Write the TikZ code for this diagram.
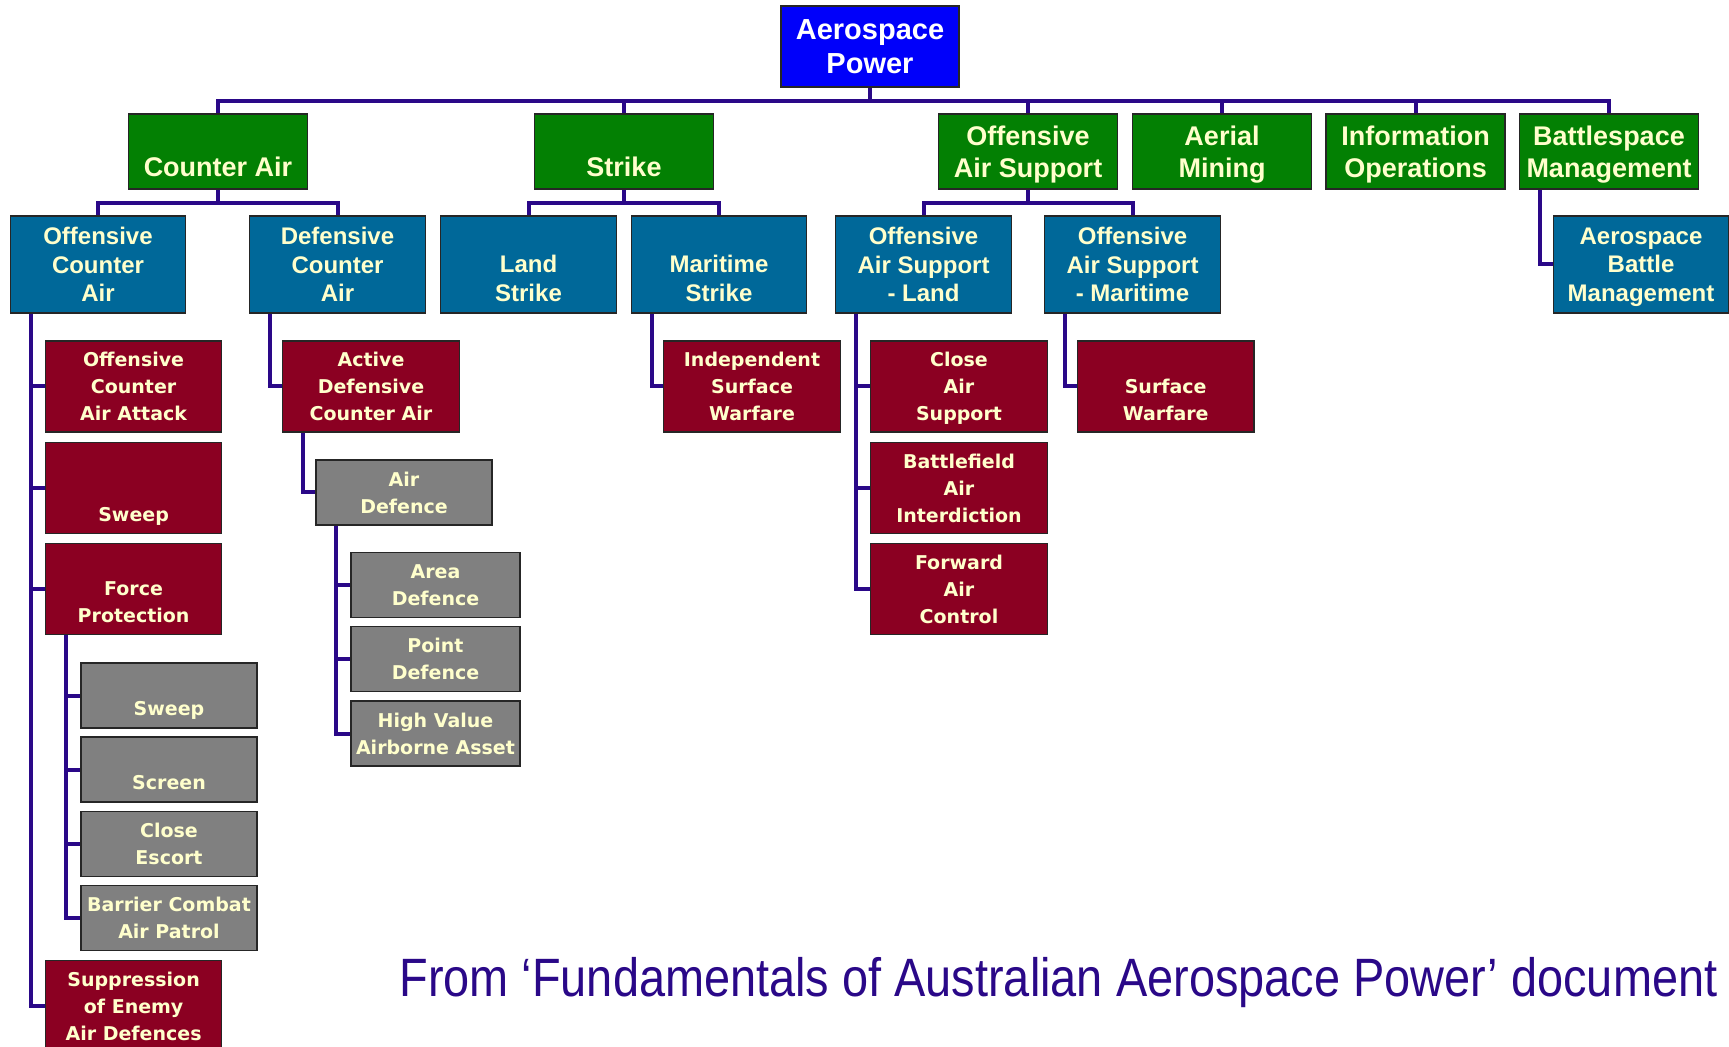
\documentclass[tikz,border=0pt]{standalone}
\usepackage{fontspec}
\usepackage{graphicx}
\setmainfont{Liberation Sans}
\newfontfamily\taskfont{DejaVu Sans}
\usepackage{tikz}

\definecolor{powerblue}{RGB}{0,0,250}
\definecolor{areagreen}{RGB}{3,128,3}
\definecolor{roleblue}{RGB}{0,104,153}
\definecolor{taskred}{RGB}{139,0,34}
\definecolor{missiongray}{RGB}{128,128,128}
\definecolor{cream}{RGB}{255,255,204}
\definecolor{linkindigo}{RGB}{42,8,136}

\begin{document}
\begin{tikzpicture}[x = 0.5pt, y = -0.5pt,
                        box/.style = {draw = black!85, line width = 0.6pt, inner sep = 0pt, align = center, text depth = 0pt},
                        powerbox/.style = {box, fill = powerblue, text = white, minimum width = 89pt, minimum height = 40.5pt,
                                           font = \bfseries\fontsize{14.5}{17}\selectfont},
                        areabox/.style = {box, fill = areagreen, text = cream, minimum width = 89.5pt, minimum height = 37.5pt,
                                          font = \bfseries\fontsize{13.5}{16}\selectfont},
                        rolebox/.style = {box, fill = roleblue, text = cream, minimum width = 87.75pt, minimum height = 48.5pt,
                                          font = \bfseries\fontsize{12}{14.3}\selectfont},
                        taskbox/.style = {box, fill = taskred, text = cream, minimum width = 88.25pt, minimum height = 45.5pt,
                                          font = \taskfont\bfseries\fontsize{9.5}{13.5}\selectfont},
                        missionbox/.style = {box, fill = missiongray, text = cream, minimum width = 88pt, minimum height = 32.5pt,
                                             font = \taskfont\bfseries\fontsize{9.5}{13.5}\selectfont},
                        link/.style = {draw = linkindigo, line width = 2pt}]
      \clip (0, 0) rectangle (1729, 1047);
      % top
      \node [powerbox] (power) at (870, 46.5) {Aerospace\\Power};
      % areas
      \node [areabox] (ca) at (218, 151.5) {\vphantom{A}\\Counter Air};
      \node [areabox] (strike) at (624, 151.5) {\vphantom{A}\\Strike};
      \node [areabox] (oas) at (1028, 151.5) {Offensive\\Air Support};
      \node [areabox] (mining) at (1222, 151.5) {Aerial\\Mining};
      \node [areabox] (infoops) at (1415.5, 151.5) {Information\\Operations};
      \node [areabox] (bsm) at (1609, 151.5) {Battlespace\\Management};
      % roles
      \node [rolebox] (oca) at (98, 264.5) {Offensive\\Counter\\Air};
      \node [rolebox] (dca) at (337.5, 264.5) {Defensive\\Counter\\Air};
      \node [rolebox] (land) at (528.5, 264.5) {\vphantom{A}\\Land\\Strike};
      \node [rolebox] (mstrike) at (719, 264.5) {\vphantom{A}\\Maritime\\Strike};
      \node [rolebox] (oasl) at (923.5, 264.5) {Offensive\\Air Support\\- Land};
      \node [rolebox] (oasm) at (1132.5, 264.5) {Offensive\\Air Support\\- Maritime};
      \node [rolebox] (absm) at (1641, 264.5) {Aerospace\\Battle\\Management};
      % tasks
      \node [taskbox] (ocaa) at (133.6, 386.5) {Offensive\\Counter\\Air Attack};
      \node [taskbox] (sweep) at (133.6, 488) {\vphantom{A}\\~\\Sweep};
      \node [taskbox] (fp) at (133.6, 589) {\vphantom{A}\\Force\\Protection};
      \node [taskbox] (sead) at (133.6, 1006) {Suppression\\of Enemy\\Air Defences};
      \node [taskbox] (adca) at (371, 386.5) {Active\\Defensive\\Counter Air};
      \node [taskbox] (isw) at (752, 386.5) {Independent\\Surface\\Warfare};
      \node [taskbox] (cas) at (959, 386.5) {Close\\Air\\Support};
      \node [taskbox] (bai) at (959, 488) {Battlefield\\Air\\Interdiction};
      \node [taskbox] (fac) at (959, 589) {Forward\\Air\\Control};
      \node [taskbox] (sw) at (1165.7, 386.5) {\vphantom{A}\\Surface\\Warfare};
      % missions
      \node [missionbox] (gsweep) at (169, 695.5) {\vphantom{A}\\Sweep};
      \node [missionbox] (screen) at (169, 769.5) {\vphantom{A}\\Screen};
      \node [missionbox] (escort) at (169, 844) {Close\\Escort};
      \node [missionbox] (bcap) at (169, 918) {Barrier Combat\\Air Patrol};
      \node [missionbox] (airdef) at (404, 492.5) {Air\\Defence};
      \node [missionbox, minimum width = 84.5pt] (area) at (435.5, 585) {Area\\Defence};
      \node [missionbox, minimum width = 84.5pt] (point) at (435.5, 659) {Point\\Defence};
      \node [missionbox, minimum width = 84.5pt] (hvaa) at (435.5, 733.5) {High Value\\Airborne Asset};
      % connectors
      \draw [link] (power.south) -- ++(0, 13) coordinate (bus);
      \foreach \c in {ca, strike, oas, mining, infoops, bsm}
        \draw [link] (bus) -| (\c.north);
      \foreach \p/\c in {ca/oca, ca/dca, strike/land, strike/mstrike, oas/oasl, oas/oasm}
        \draw [link] (\p.south) -- ++(0, 13) -| (\c.north);
      \foreach \p/\c in {oca/ocaa, oca/sweep, oca/fp, oca/sead, fp/gsweep, fp/screen, fp/escort, fp/bcap,
                         dca/adca, adca/airdef, airdef/area, airdef/point, airdef/hvaa,
                         mstrike/isw, oasl/cas, oasl/bai, oasl/fac, oasm/sw, bsm/absm}
        \draw [link] ([xshift = 10.5pt]\p.south west) |- (\c.west);
      % source
      \node [anchor = base west, inner sep = 0pt, text = linkindigo] (source) at (399, 996)
        {\resizebox{659pt}{\height}{\fontsize{27}{30}\selectfont From ‘Fundamentals of Australian Aerospace Power’ document}};
    \end{tikzpicture}
\end{document}
